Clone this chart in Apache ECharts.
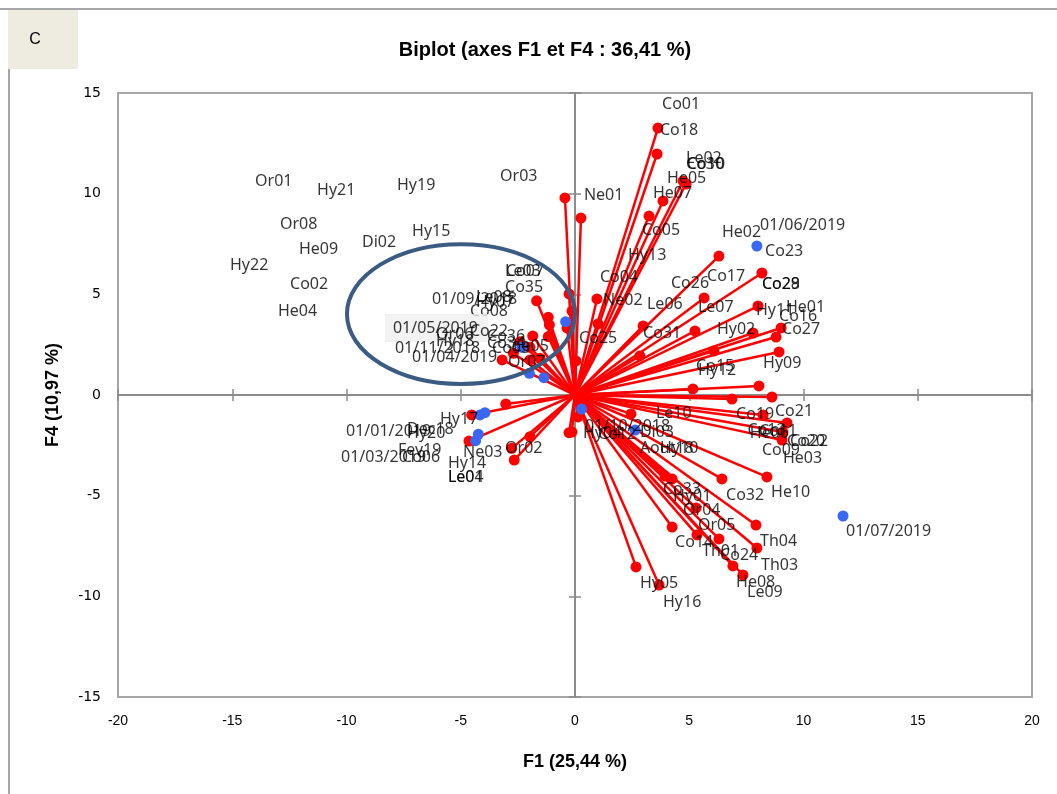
<!DOCTYPE html>
<html>
<head>
<meta charset="utf-8">
<script src="https://cdn.jsdelivr.net/npm/echarts@6/dist/echarts.min.js"></script>
<style>
  html, body { margin: 0; padding: 0; background: #fff; }
  #chart { width: 1057px; height: 794px; }
</style>
</head>
<body>
<div id="chart"></div>
<script>
// Variable loadings (end points of the red vectors), F1 / F4
const varX = [3.63, 3.59, 4.73, 4.86, 3.85, 3.24, -0.44, 0.26, 6.30, 8.18,
  5.65, 0.96, -0.26, -0.13, -0.35, 8.01, 2.98, 5.25, 7.79, 9.02,
  8.80, 6.08, 2.84, 8.93, 1.01, 0.04, 8.05, 5.16, 8.62, 6.87,
  9.28, 9.10, 8.23, 9.06, 8.40, 6.43, 2.45, 0.13, -0.13, 4.25,
  5.34, 6.30, 7.92, 7.96, 6.91, 7.35, 2.67, 3.68, 3.94, 4.25,
  5.30, -1.68, -1.17, -1.12, -1.85, -2.41, -1.17, -1.97, -3.19, -2.70,
  -1.97, -1.53, -4.52, -3.03, -4.64, -1.97, -2.77, -2.66, -0.26];
const varY = [13.26, 11.97, 10.63, 10.48, 9.64, 8.89, 9.79, 8.79, 6.90, 6.06,
  4.82, 4.77, 5.02, 4.17, 3.33, 4.42, 3.43, 3.18, 3.08, 3.33,
  2.88, 2.19, 1.94, 2.14, 3.53, 1.69, 0.45, 0.30, -0.10, -0.20,
  -1.39, -1.84, -0.99, -2.24, -4.07, -4.17, -0.94, -1.09, -1.84, -6.56,
  -6.95, -7.15, -6.46, -7.60, -8.49, -8.94, -8.54, -9.44, -4.02, -4.17,
  -5.61, 4.68, 3.86, 3.48, 2.93, 2.65, 2.90, 2.37, 1.74, 2.07,
  1.74, 1.82, -0.99, -0.45, -2.29, -2.07, -2.65, -3.23, -1.87];

// Observation scores (blue points), F1 / F4
const obsX = [7.96, 11.73, -0.41, -2.00, -1.36, -2.33, -4.16, -3.94, -4.23, -4.35, 0.29, 2.63];
const obsY = [7.40, -6.01, 3.64, 1.08, 0.86, 2.37, -0.99, -0.88, -1.95, -2.27, -0.70, -1.74];

// Point labels and their anchor coordinates (left edge, vertical centre)
const labelText = [
  'Co01', 'Co18', 'Le02', 'Co30', 'Co10', 'He05', 'He07', 'Ne01', 'Or03', 'Co05',
  'Hy13', 'Co04', 'Co26', 'Co17', 'He02', '01/06/2019', 'Co23', 'Co28', 'Co29', 'Ne02',
  'Le06', 'Le07', 'Hy11', 'He01', 'Co16', 'Co31', 'Hy02', 'Co27', 'Co25', 'Hy09',
  'Co15', 'Hy12', 'Le10', 'Co19', 'Co21', 'Co13', 'He06', 'Co11', 'Co09', 'Co20',
  'Co22', 'He03', '01/10/2018', 'Hy04', 'Co12', 'Di03', 'Aout18', 'Hy10', 'Co33', 'Hy01',
  'Co32', 'He10', 'Or04', 'Or05', 'Co14', 'Th01', 'Co24', 'Th04', 'Th03', 'He08',
  'Le09', 'Hy05', 'Hy16', '01/07/2019',
  'Or01', 'Hy21', 'Hy19', 'Or08', 'He09', 'Di02', 'Hy15', 'Hy22', 'Co02', 'He04',
  'Le03', 'Co07', 'Co35', '01/09/2018', 'Le08', 'Hy07', 'Co08', '01/05/2019', 'Or06', 'Co22',
  'Hy18', 'Co36', 'Co34', '01/11/2018', '01/04/2019', 'Co03', 'Le05', 'Or07', 'Hy17', '01/01/2019',
  'Dec18', 'Hy20', 'Fev19', '01/03/2019', 'Co06', 'Ne03', 'Or02', 'Hy14', 'Le04', 'Le01'];
const labelX = [
  3.81, 3.72, 4.86, 4.86, 4.90, 4.03, 3.41, 0.39, -3.28, 2.93,
  2.32, 1.09, 4.20, 5.78, 6.43, 8.10, 8.32, 8.18, 8.18, 1.23,
  3.15, 5.38, 7.92, 9.23, 8.93, 2.98, 6.21, 9.06, 0.18, 8.23,
  5.30, 5.38, 3.54, 7.05, 8.75, 7.55, 7.65, 8.05, 8.18, 9.28,
  9.41, 9.10, 0.44, 0.35, 1.01, 2.84, 2.84, 3.72, 3.85, 4.29,
  6.61, 8.58, 4.73, 5.38, 4.38, 5.56, 6.35, 8.10, 8.14, 7.05,
  7.53, 2.84, 3.85, 11.86,
  -14.00, -11.29, -7.79, -12.91, -12.08, -9.32, -7.13, -15.10, -12.47, -13.00,
  -3.06, -3.02, -3.06, -6.26, -4.33, -4.33, -4.60, -8.32, -6.08, -4.60,
  -6.08, -3.85, -3.85, -7.88, -7.13, -3.63, -2.71, -2.93, -5.91, -10.02,
  -7.35, -7.35, -7.75, -10.24, -7.57, -4.90, -3.06, -5.56, -5.56, -5.56];
const labelY = [
  14.41, 13.16, 11.77, 11.43, 11.43, 10.78, 10.03, 9.89, 10.88, 8.15,
  6.95, 5.86, 5.56, 5.91, 8.05, 8.40, 7.15, 5.51, 5.51, 4.72,
  4.52, 4.37, 4.22, 4.37, 3.92, 3.08, 3.28, 3.28, 2.83, 1.59,
  1.44, 1.24, -0.94, -0.99, -0.84, -1.74, -1.89, -1.79, -2.73, -2.29,
  -2.29, -3.13, -1.54, -1.89, -1.94, -1.84, -2.63, -2.63, -4.67, -5.02,
  -4.97, -4.82, -5.71, -6.46, -7.30, -7.75, -7.95, -7.25, -8.45, -9.29,
  -9.79, -9.34, -10.28, -6.76,
  10.63, 10.18, 10.43, 8.45, 7.25, 7.60, 8.10, 6.46, 5.51, 4.17,
  6.16, 6.16, 5.32, 4.77, 4.87, 4.62, 4.17, 3.33, 3.03, 3.18,
  2.68, 2.93, 2.58, 2.29, 1.89, 2.29, 2.39, 1.64, -1.19, -1.79,
  -1.69, -1.89, -2.73, -3.08, -3.08, -2.83, -2.63, -3.38, -4.07, -4.07];

// Axis titles and header
const chartTitle = 'Biplot (axes F1 et F4 : 36,41 %)';
const xTitle = 'F1 (25,44 %)';
const yTitle = 'F4 (10,97 %)';
const panelTag = 'C';

const RED = '#ff0000';
const BLUE = '#3a68f4';
const AXIS_GREY = '#8c8c8c';
const FRAME_GREY = '#a6a6a6';
const SANS = 'Liberation Sans';

const vectorData = varX.map((x, i) => [x, varY[i]]);
const obsData = obsX.map((x, i) => [x, obsY[i]]);
const labelData = labelText.map((t, i) => {
  const item = { name: t, value: [labelX[i], labelY[i]] };
  if (t === '01/05/2019') {
    item.label = { backgroundColor: '#efefef', padding: [6, 10, 6, 8] };
  }
  return item;
});

const chart = echarts.init(document.getElementById('chart'));

const baseX = { type: 'value', min: -20, max: 20, interval: 5, splitLine: { show: false } };
const baseY = { type: 'value', min: -15, max: 15, interval: 5, splitLine: { show: false } };

const zeroAxisLine = { show: true, onZero: true, lineStyle: { color: AXIS_GREY, width: 2 } };

chart.setOption({
  backgroundColor: '#fff',
  animation: false,
  title: {
    text: chartTitle,
    left: 540, top: 35, textAlign: 'center',
    textStyle: { fontFamily: SANS, fontWeight: 'bold', fontSize: 20, color: '#000' }
  },
  grid: {
    left: 118, right: 25, top: 93, bottom: 97,
    show: true, borderColor: FRAME_GREY, borderWidth: 2, backgroundColor: 'transparent'
  },
  xAxis: [
    Object.assign({}, baseX, {
      position: 'bottom',
      axisLine: { show: false, onZero: false },
      axisTick: { show: false },
      axisLabel: { margin: 17, fontFamily: SANS, fontSize: 14, color: '#000' },
      name: xTitle, nameLocation: 'middle', nameGap: 56,
      nameTextStyle: { fontFamily: SANS, fontWeight: 'bold', fontSize: 18, color: '#000' }
    }),
    Object.assign({}, baseX, {
      position: 'bottom',
      axisLine: Object.assign({ onZeroAxisIndex: 0 }, zeroAxisLine),
      axisTick: { show: true, inside: false, length: 6, lineStyle: { color: AXIS_GREY, width: 1.5 } },
      axisLabel: { show: false }
    }),
    Object.assign({}, baseX, {
      position: 'bottom',
      axisLine: Object.assign({ onZeroAxisIndex: 0 }, zeroAxisLine),
      axisTick: { show: true, inside: true, length: 6, lineStyle: { color: AXIS_GREY, width: 1.5 } },
      axisLabel: { show: false }
    })
  ],
  yAxis: [
    Object.assign({}, baseY, {
      position: 'left',
      axisLine: { show: false, onZero: false },
      axisTick: { show: false },
      axisLabel: { margin: 17, fontFamily: 'DejaVu Sans', fontSize: 14, color: '#000' },
      name: yTitle, nameLocation: 'middle', nameGap: 56, nameRotate: 90,
      nameTextStyle: { fontFamily: SANS, fontWeight: 'bold', fontSize: 18, color: '#000' }
    }),
    Object.assign({}, baseY, {
      position: 'left',
      axisLine: Object.assign({ onZeroAxisIndex: 0 }, zeroAxisLine),
      axisTick: { show: true, inside: false, length: 6, lineStyle: { color: AXIS_GREY, width: 1.5 } },
      axisLabel: { show: false }
    }),
    Object.assign({}, baseY, {
      position: 'left',
      axisLine: Object.assign({ onZeroAxisIndex: 0 }, zeroAxisLine),
      axisTick: { show: true, inside: true, length: 6, lineStyle: { color: AXIS_GREY, width: 1.5 } },
      axisLabel: { show: false }
    })
  ],
  series: [
    {
      // loading vectors drawn from the origin
      type: 'custom',
      xAxisIndex: 0, yAxisIndex: 0,
      data: vectorData,
      renderItem: function (params, api) {
        const o = api.coord([0, 0]);
        const p = api.coord([api.value(0), api.value(1)]);
        return {
          type: 'group',
          children: [
            { type: 'line', shape: { x1: o[0], y1: o[1], x2: p[0], y2: p[1] },
              style: { stroke: RED, lineWidth: 2.5 } },
            { type: 'circle', shape: { cx: p[0], cy: p[1], r: 5.5 }, style: { fill: RED } }
          ]
        };
      },
      z: 3
    },
    {
      type: 'scatter',
      xAxisIndex: 0, yAxisIndex: 0,
      data: obsData,
      symbol: 'circle', symbolSize: 11,
      itemStyle: { color: BLUE, opacity: 1 },
      z: 4
    },
    {
      type: 'scatter',
      xAxisIndex: 0, yAxisIndex: 0,
      data: labelData,
      symbolSize: 0,
      silent: true,
      label: {
        show: true, position: 'right', distance: 0,
        formatter: '{b}',
        fontFamily: 'Noto Sans', fontSize: 16, color: '#000'
      },
      labelLayout: { hideOverlap: false },
      z: 5
    }
  ]
});

// Ellipse around the left cluster, placed in data coordinates
const c = chart.convertToPixel({ xAxisIndex: 0, yAxisIndex: 0 }, [-4.99, 4.02]);
const e = chart.convertToPixel({ xAxisIndex: 0, yAxisIndex: 0 }, [0.0, 0.55]);
chart.setOption({
  graphic: [
    { type: 'line', shape: { x1: 0, y1: 9, x2: 1057, y2: 9 }, style: { stroke: FRAME_GREY, lineWidth: 2 } },
    { type: 'line', shape: { x1: 9, y1: 69, x2: 9, y2: 794 }, style: { stroke: FRAME_GREY, lineWidth: 2 } },
    { type: 'rect', shape: { x: 8, y: 10, width: 70, height: 59 }, style: { fill: '#eeece1' } },
    { type: 'text', x: 35, y: 40, style: { text: panelTag, font: '16px "Liberation Sans"', fill: '#000', textAlign: 'center', textVerticalAlign: 'middle' } },
    { type: 'ellipse', shape: { cx: c[0], cy: c[1], rx: e[0] - c[0], ry: e[1] - c[1] },
      style: { fill: 'none', stroke: '#3b5b82', lineWidth: 4 }, z: 10 }
  ]
});
</script>
</body>
</html>
